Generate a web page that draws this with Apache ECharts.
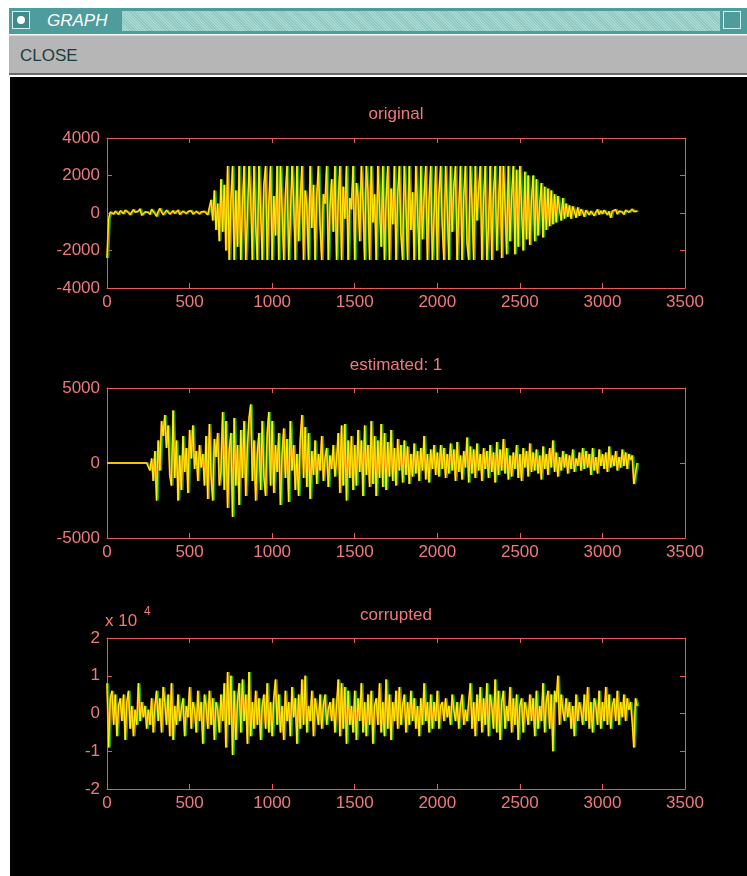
<!DOCTYPE html>
<html>
<head>
<meta charset="utf-8">
<script src="https://cdn.jsdelivr.net/npm/echarts@6/dist/echarts.min.js"></script>
<style>
  html, body { margin:0; padding:0; background:#ffffff; }
  body { width:747px; height:876px; position:relative; overflow:hidden; font-family:'Liberation Sans', Arial, sans-serif; }
  #titlebar { position:absolute; left:9px; top:8px; width:738px; height:26px; background:#4f9c9c; }
  #stipple { position:absolute; left:113px; top:3px; width:598px; height:20px;
    background: repeating-linear-gradient(45deg, #a9d9d2 0 1px, #8fc8c0 1px 2px); }
  #icon { position:absolute; left:3px; top:3px; width:18px; height:18px; background:#3f8a8a; border:1px solid #cfeeee; box-sizing:border-box; }
  #icon div { position:absolute; left:4px; top:4px; width:8px; height:8px; border-radius:50%; background:#ffffff; }
  #gtitle { position:absolute; left:38px; top:3px; color:#ffffff; font-style:italic; font-size:17px; line-height:20px; }
  #ricon { position:absolute; left:714px; top:3px; width:18px; height:18px; border:1px solid #cfeeee; box-sizing:border-box; }
  #menubar { position:absolute; left:9px; top:35px; width:738px; height:40px; background:#b6b6b6; border-top:1px solid #d8d8d8; border-bottom:2px solid #6a6a6a; box-sizing:border-box; }
  #close { position:absolute; left:11px; top:10px; color:#1e3c3c; font-size:17px; line-height:20px; }
  #chart { position:absolute; left:10px; top:77px; width:737px; height:799px; background:#000000; }
</style>
</head>
<body>
<div id="titlebar"><div id="icon"><div></div></div><div id="gtitle">GRAPH</div><div id="stipple"></div><div id="ricon"></div></div>
<div id="menubar"><div id="close">CLOSE</div></div>
<div id="chart"></div>
<script>
// ---- data (one value every SAMPLE_STEP samples) ----
const SAMPLE_STEP = 10;
const plotTitles = ['original', 'estimated: 1', 'corrupted'];
const xTicks = [0, 500, 1000, 1500, 2000, 2500, 3000, 3500];
const yTicksOriginal = [-4000, -2000, 0, 2000, 4000];
const yTicksEstimated = [-5000, 0, 5000];
const yTicksCorrupted = [-2, -1, 0, 1, 2]; // x 10^4

const originalValues = [
  -2400, -300, 50, 80, -60, 100, 40, -80, 120, 60,
  -40, 150, 80, 20, -100, 60, 180, 40, -60, 100,
  220, -120, -200, 60, 140, 30, -80, 200, 120, -40,
  -180, 80, 240, 60, -100, 20, 150, 90, -60, 40,
  120, -30, 60, 160, -80, 20, 100, 60, -40, 80,
  30, 120, -60, 40, 90, 10, -50, 60, 20, 80,
  40, -100, 300, 700, -400, 1200, -900, 500, -1500, 1800,
  -1000, 1500, -2000, 2500, -2500, 600, 2500, -2500, 1200, -1800,
  2500, -2500, 400, 2500, -2500, -300, 2500, 800, -2500, 2500,
  -600, -2500, 2500, 200, -2500, 1500, 2500, -2500, 500, 2500,
  -2500, 900, -1200, 2500, -2500, 2500, 300, -2500, 1000, 2500,
  -2500, -400, 2500, 700, -2500, 2500, -1500, 600, 2500, -2500,
  1200, 400, -2500, 2500, -800, 1500, -2500, 900, 2500, -600,
  -2500, 1000, 500, 2500, -2500, 300, 1800, -1000, 2500, -2500,
  600, 2500, -2500, 1400, -300, 2500, -2500, 800, 200, 2500,
  -2500, 1600, 900, -1500, 2500, 600, -2500, 2500, 1200, -2500,
  2500, -500, 1000, -2500, 2500, 400, -1800, 2500, -2500, 700,
  2500, -2500, 1300, -600, 2500, -2500, 900, 2500, -1200, -2500,
  2500, 500, -2500, 2500, -900, 1100, -2500, 2500, 300, -2500,
  2500, -1400, 800, 2500, -2500, 600, 2500, -2500, -300, 2500,
  -2500, 1000, 2500, -700, -2500, 2500, 400, -2500, 2500, -1000,
  1400, 2500, -2500, 200, 2500, -2500, 900, 2500, -1600, -2500,
  2500, 600, -2500, 2500, -400, 1200, 2500, -2500, 700, 2500,
  -2500, -800, 2500, -2500, 1000, 2500, -2000, 300, 2500, -2400,
  2500, 500, -2200, 2500, -1500, 800, 2500, -2200, 2300, -1800,
  2500, 400, -2000, 2200, -1400, 2000, -1700, 600, 2000, -1500,
  1800, -1200, 400, 1600, -1300, 1400, -900, 1300, -700, 1200,
  -600, 1000, -500, 900, 200, -400, 800, -300, 500, -200,
  400, -300, 350, 100, -250, 300, -150, 200, 50, -200,
  150, 250, -100, 100, 200, -150, 50, 180, -80, 120,
  -50, 150, 200, -100, 80, -250, 100, 60, 180, -60,
  100, 200, 50, -80, 150, 250, 40, 120, 200, 80,
  60, 100
];

const estimatedValues = [
  0, 0, 0, 0, 0, 0, 0, 0, 0, 0,
  0, 0, 0, 0, 0, 0, 0, 0, 0, 0,
  0, 0, 0, 0, 0, 0, -500, 300, -1200, 800,
  -2500, 1500, -500, 2800, 1800, 3200, 1000, 2500, -800, -1500,
  3500, -1000, 1500, -2500, 500, -1800, 1800, -600, 1000, -2000,
  2200, 300, 2500, -400, 800, -1200, 1200, -300, 600, -1500,
  1800, -2400, 2600, -800, -2500, 1600, 400, 2000, -1500, -600,
  3400, -1800, 2800, -3000, 800, 2000, -3600, 3000, -1500, 1200,
  -2800, 2200, -1000, 2800, -2200, 1000, 3000, 3900, -1200, 1500,
  -2500, 600, 2000, -1800, 2800, -900, -2200, 2000, 3400, -1500,
  2800, -2000, 1200, -600, 2000, -2800, 500, 2300, -1000, 1600,
  -2600, 2800, -500, 1200, -1800, 600, -2200, 1500, 3200, -1000,
  2400, -1600, 2000, -2400, 800, -800, 1500, -1400, 600, -500,
  1800, -1200, 300, 1000, -1600, 500, -400, 1200, -900, 200,
  2000, -2000, 2500, -1500, 2600, -2500, 1500, -1000, 1800, -1800,
  1200, -1500, 2200, -600, 1500, -2200, 2500, -800, 1200, -1600,
  2800, -1400, 1800, -2200, 1500, -1000, 2600, -1600, 2000, -1800,
  1400, -900, 2200, -1200, 1000, -1500, 1600, -500, 1200, -1300,
  1500, -800, 1100, -1400, 600, -900, 1300, -700, 800, -1200,
  1000, -500, 1800, -1100, 600, -1300, 900, -400, 1200, -800,
  700, -900, 1200, -400, 1000, -1000, 600, -700, 1300, -500,
  900, -1200, 1400, -600, 500, -1100, 800, -300, 1700, -1300,
  1100, -700, 900, -1000, 1300, -500, 600, -1200, 1000, -400,
  800, -1000, 1200, -600, 700, -1300, 1400, -800, 900, -500,
  1600, -700, 1000, -1100, 500, -900, 700, -400, 1200, -1000,
  600, -1200, 1000, -300, 800, -900, 1300, -600, 700, -500,
  900, -700, 500, -1100, 1100, -400, 600, -800, 1000, -300,
  1500, -600, 700, -900, 400, -500, 800, -300, 600, -700,
  500, -400, 900, -600, 300, -200, 700, -500, 1000, -400,
  800, -300, 600, -800, 1000, -500, 400, -700, 900, -200,
  600, -400, 700, -600, 1100, -300, 500, -200, 800, -500,
  400, -300, 900, -200, 700, -400, 600, 200, 500, -1400,
  -1300, 0
];

const corruptedValues = [
  0.8, -0.9, 0.4, 0.6, -0.3, 0.5, -0.6, 0.2, 0.4, -0.2,
  0.5, -0.7, 0.3, 0.6, -0.4, 0.2, -0.6, 0.1, -0.3, 0.8,
  -0.2, 0.3, -0.1, 0.2, -0.4, 0.1, -0.3, 0.4, -0.5, 0.2,
  0.6, -0.2, 0.4, -0.5, 0.7, 0.3, -0.3, 0.5, -0.6, 0.8,
  -0.7, 0.2, -0.3, 0.5, -0.2, 0.1, 0.4, -0.6, 0.2, -0.1,
  0.7, -0.4, 0.3, 0.1, -0.5, 0.6, -0.2, 0.3, -0.8, 0.5,
  0.2, -0.4, 0.6, -0.3, 0.4, -0.7, 0.3, 0.1, -0.5, 0.5,
  -0.2, 0.8, -0.9, 1.1, -0.3, 1.0, -1.1, 0.6, -0.7, 0.3,
  0.8, -0.5, 0.9, -0.2, 0.5, -0.8, 1.1, -0.6, 0.3, -0.4,
  0.6, -0.3, 0.4, -0.7, 0.2, 0.5, -0.4, 0.8, -0.5, 0.3,
  -0.6, 0.4, 0.9, -0.3, 0.5, -0.5, 0.2, -0.7, 0.6, -0.2,
  0.3, -0.6, 0.7, -0.1, 0.4, -0.8, 0.5, -0.4, 0.9, -0.3,
  1.0, -0.5, 0.2, -0.2, 0.6, -0.6, 0.4, 0.1, -0.3, 0.5,
  -0.4, 0.2, 0.5, -0.3, 0.1, 0.3, -0.2, 0.4, -0.5, 0.2,
  0.9, -0.6, 0.8, -0.4, 0.7, -0.8, 0.6, -0.3, 0.2, -0.5,
  0.6, -0.7, 0.4, -0.2, 0.8, -0.5, 0.3, -0.6, 0.5, -0.3,
  0.6, -0.8, 0.2, 0.4, -0.3, 0.8, -0.5, 0.3, -0.6, 0.9,
  -0.4, 0.5, -0.7, 0.3, -0.2, 0.6, -0.4, 0.7, -0.3, 0.2,
  0.5, -0.5, 0.3, -0.3, 0.6, -0.2, 0.4, -0.4, 0.2, -0.6,
  0.4, -0.3, 0.8, -0.2, 0.3, -0.5, 0.5, -0.4, 0.3, -0.2,
  0.6, -0.4, 0.2, 0.3, -0.2, 0.4, -0.1, 0.2, -0.3, 0.5,
  0.1, -0.2, 0.3, -0.4, 0.2, 0.5, -0.3, 0.1, -0.2, 0.3,
  0.8, -0.4, 0.3, -0.6, 0.5, -0.2, 0.7, -0.5, 0.4, -0.3,
  0.8, -0.6, 0.5, 0.2, -0.4, 0.9, -0.5, 0.6, -0.7, 0.3,
  0.6, -0.4, 0.2, -0.2, 0.7, -0.5, 0.4, -0.3, 0.5, -0.7,
  0.2, 0.4, -0.5, 0.3, 0.1, -0.3, 0.5, -0.2, 0.4, -0.6,
  0.6, -0.4, 0.2, -0.2, 0.8, -0.5, 0.3, 0.6, -0.4, 0.5,
  -1.0, 0.6, 0.3, 1.0, -0.3, 0.5, 0.1, -0.2, 0.4, -0.1,
  0.3, -0.4, 0.2, -0.6, 0.5, -0.2, 0.3, 0.1, -0.3, 0.5,
  -0.2, 0.7, -0.4, 0.3, -0.5, 0.4, 0.2, -0.3, 0.6, -0.4,
  0.3, -0.2, 0.7, -0.3, 0.5, -0.4, 0.2, 0.4, -0.2, 0.6,
  -0.3, 0.3, -0.1, 0.5, -0.2, 0.4, 0.1, 0.3, -0.2, -0.9,
  0.4, 0.2
];

// ---- build chart ----
const FRAME = '#e65a5a';
const TEXT = '#f07a7a';
const FONT = "'Liberation Sans', Arial, sans-serif";
const toPairs = vals => vals.map((v, i) => [i * SAMPLE_STEP, v]);
const plainLabel = v => String(v);

const grids = [
  { left: 97, top: 61, width: 578, height: 150 },
  { left: 97, top: 311, width: 578, height: 150 },
  { left: 97, top: 561, width: 578, height: 151 }
];
const yRanges = [yTicksOriginal, yTicksEstimated, yTicksCorrupted];
const seriesData = [originalValues, estimatedValues, corruptedValues];

const xAxis = [], yAxis = [], series = [];
grids.forEach((g, k) => {
  const base = {
    gridIndex: k, type: 'value', min: xTicks[0], max: xTicks[xTicks.length - 1], interval: xTicks[1] - xTicks[0],
    splitLine: { show: false },
    axisLine: { show: true, onZero: false, lineStyle: { color: FRAME, width: 1 } },
    axisTick: { show: true, inside: true, length: 5, lineStyle: { color: FRAME } }
  };
  xAxis.push(Object.assign({}, base, { position: 'bottom',
    axisLabel: { show: true, color: TEXT, fontSize: 17, fontFamily: FONT, margin: 6, showMinLabel: true, showMaxLabel: true, formatter: plainLabel } }));
  xAxis.push(Object.assign({}, base, { position: 'top', axisLabel: { show: false } }));
  const yt = yRanges[k];
  const ybase = {
    gridIndex: k, type: 'value', min: yt[0], max: yt[yt.length - 1], interval: yt[1] - yt[0],
    splitLine: { show: false },
    axisLine: { show: true, onZero: false, lineStyle: { color: FRAME, width: 1 } },
    axisTick: { show: true, inside: true, length: 5, lineStyle: { color: FRAME } }
  };
  yAxis.push(Object.assign({}, ybase, { position: 'left',
    axisLabel: { show: true, color: TEXT, fontSize: 17, fontFamily: FONT, margin: 7, showMinLabel: true, showMaxLabel: true, formatter: plainLabel } }));
  yAxis.push(Object.assign({}, ybase, { position: 'right', axisLabel: { show: false } }));

  const data = toPairs(seriesData[k]);
  series.push({
    type: 'line', xAxisIndex: 2 * k, yAxisIndex: 2 * k, data: data, symbol: 'none', animation: false,
    lineStyle: { color: '#ff8a00', width: 1.8, shadowColor: 'rgba(20,160,20,0.95)', shadowOffsetX: 1.4, shadowBlur: 0 },
    silent: true
  });
  series.push({
    type: 'line', xAxisIndex: 2 * k, yAxisIndex: 2 * k, data: data, symbol: 'none', animation: false,
    lineStyle: { color: '#ffff10', width: 1, opacity: 0.9 }, silent: true
  });
});

const titleY = [37, 288, 538];
const graphic = plotTitles.map((t, k) => ({
  type: 'text', x: 386, y: titleY[k],
  style: { text: t, fill: TEXT, font: "17px " + FONT, align: 'center', verticalAlign: 'middle' }
}));
graphic.push({ type: 'text', x: 95, y: 544, style: { text: 'x 10', fill: TEXT, font: "17px " + FONT, align: 'left', verticalAlign: 'middle' } });
graphic.push({ type: 'text', x: 134, y: 535, style: { text: '4', fill: TEXT, font: "12px " + FONT, align: 'left', verticalAlign: 'middle' } });

const chart = echarts.init(document.getElementById('chart'), null, { renderer: 'canvas' });
chart.setOption({
  backgroundColor: '#000000',
  animation: false,
  grid: grids,
  xAxis: xAxis,
  yAxis: yAxis,
  series: series,
  graphic: graphic
});
</script>
</body>
</html>
